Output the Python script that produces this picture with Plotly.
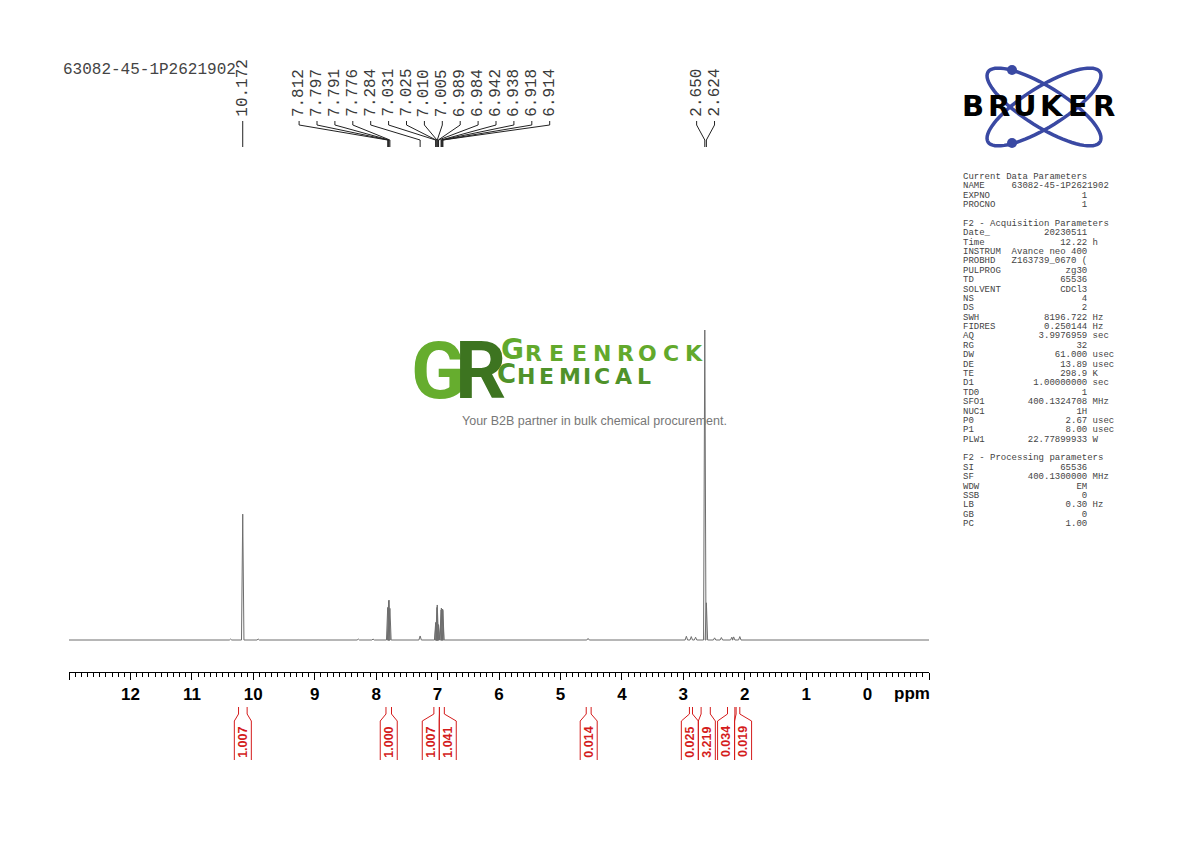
import math
import plotly.graph_objects as go

W, H = 1190, 842

# peak picking labels along the top (ppm)
PEAK_LABELS = [10.172, 7.812, 7.797, 7.791, 7.776, 7.284, 7.031, 7.025, 7.010,
               7.005, 6.989, 6.984, 6.942, 6.938, 6.918, 6.914, 2.650, 2.624]

# spectrum lines: position (ppm) and height (% of the tallest line)
LINE_PPM = [10.37, 10.172, 9.92, 8.29, 8.05, 7.812, 7.797, 7.791, 7.776, 7.284,
            7.031, 7.025, 7.010, 7.005, 6.989, 6.984, 6.942, 6.938, 6.918, 6.914,
            4.55, 2.95, 2.87, 2.80, 2.650, 2.624, 2.49, 2.38, 2.21, 2.18, 2.08]
LINE_HEIGHT = [0.3, 40.6, 0.3, 0.3, 0.3, 10.5, 12.6, 12.9, 10.2, 1.3,
               5.5, 5.8, 10.5, 11.3, 5.0, 4.8, 9.7, 10.3, 10.0, 9.6,
               0.5, 1.2, 1.1, 0.9, 100.0, 12.0, 0.7, 0.8, 0.9, 1.0, 1.1]

# integral regions (ppm) and their values
INT_FROM = [10.24, 7.84, 7.06, 6.97, 4.58, 2.90, 2.71, 2.28, 2.14]
INT_TO = [10.10, 7.75, 6.97, 6.89, 4.50, 2.85, 2.56, 2.16, 2.08]
INT_VALUE = ["1.007", "1.000", "1.007", "1.041", "0.014", "0.025", "3.219", "0.034", "0.019"]

X_TICKS = list(range(13, -2, -1))
X_LABELS = ["" if t in (13, -1) else str(t) for t in X_TICKS]

SAMPLE = "63082-45-1P2621902"

PARAMS = [
    ("Current Data Parameters", None, ""),
    ("NAME", SAMPLE, ""),
    ("EXPNO", "1", ""),
    ("PROCNO", "1", ""),
    ("", None, ""),
    ("F2 - Acquisition Parameters", None, ""),
    ("Date_", "20230511", ""),
    ("Time", "12.22", "h"),
    ("INSTRUM", "Avance neo 400", ""),
    ("PROBHD", "Z163739_0670 (", ""),
    ("PULPROG", "zg30", ""),
    ("TD", "65536", ""),
    ("SOLVENT", "CDCl3", ""),
    ("NS", "4", ""),
    ("DS", "2", ""),
    ("SWH", "8196.722", "Hz"),
    ("FIDRES", "0.250144", "Hz"),
    ("AQ", "3.9976959", "sec"),
    ("RG", "32", ""),
    ("DW", "61.000", "usec"),
    ("DE", "13.89", "usec"),
    ("TE", "298.9", "K"),
    ("D1", "1.00000000", "sec"),
    ("TD0", "1", ""),
    ("SFO1", "400.1324708", "MHz"),
    ("NUC1", "1H", ""),
    ("P0", "2.67", "usec"),
    ("P1", "8.00", "usec"),
    ("PLW1", "22.77899933", "W"),
    ("", None, ""),
    ("F2 - Processing parameters", None, ""),
    ("SI", "65536", ""),
    ("SF", "400.1300000", "MHz"),
    ("WDW", "EM", ""),
    ("SSB", "0", ""),
    ("LB", "0.30", "Hz"),
    ("GB", "0", ""),
    ("PC", "1.00", ""),
]

# the page body adds a small margin, so positions are measured from it
OFF = 8


def px(x):
    return (x - OFF) / W


def py(y):
    return 1 - (y - OFF) / H


X_LEFT, X_RIGHT = 69, 929
PPM_PER_PX = (X_TICKS[0] - X_TICKS[-1]) / (X_RIGHT - X_LEFT)


def spread(pos, gap):
    # push labels apart so neighbours are at least `gap` ppm from each other
    groups = [[p] for p in pos]
    changed = True
    while changed:
        changed = False
        out = []
        for g in groups:
            if out:
                prev = out[-1]
                c0 = sum(prev) / len(prev) - (len(prev) - 1) * gap / 2
                c1 = sum(g) / len(g) + (len(g) - 1) * gap / 2
                if c0 - c1 < gap - 1e-9:
                    out[-1] = prev + g
                    changed = True
                    continue
            out.append(g)
        groups = out
    res = []
    for g in groups:
        c = sum(g) / len(g)
        res += [c + ((len(g) - 1) / 2 - i) * gap for i in range(len(g))]
    return res


fig = go.Figure()

# spectrum as narrow lines on a flat baseline
half = 0.02
order = sorted(range(len(LINE_PPM)), key=lambda i: -LINE_PPM[i])
xs, ys = [X_TICKS[0]], [0]
for i in order:
    p, h = LINE_PPM[i], LINE_HEIGHT[i]
    xs += [p + half, p, p - half]
    ys += [0, h, 0]
xs.append(X_TICKS[-1])
ys.append(0)
fig.add_trace(go.Scatter(x=xs, y=ys, mode="lines",
                         line=dict(color="#6e6e6e", width=1), hoverinfo="skip"))

shapes = []
annotations = []

# peak labels and their connectors
lab_pos = spread(PEAK_LABELS, 17.9 * PPM_PER_PX)
for p, q in zip(PEAK_LABELS, lab_pos):
    annotations.append(dict(x=q, xref="x", y=py(119), yref="paper", text=f"{p:.3f}",
                            textangle=-90, xanchor="center", yanchor="bottom", showarrow=False,
                            font=dict(family="Liberation Mono", size=16, color="#3a3a3a")))
    path = (f"M {q},{py(121)} L {q},{py(125)} L {p},{py(140)} L {p},{py(147)}")
    shapes.append(dict(type="path", path=path, xref="x", yref="paper",
                       line=dict(color="#222222", width=1)))

# integrals under the axis
mids = [(a + b) / 2 for a, b in zip(INT_FROM, INT_TO)]
int_pos = spread(mids, 17 * PPM_PER_PX)
hw = 8.5 * PPM_PER_PX
red = "#d41c1c"
for a, b, c, v in zip(INT_FROM, INT_TO, int_pos, INT_VALUE):
    path = (f"M {a},{py(707)} L {a},{py(714)} L {c + hw},{py(721)} L {c + hw},{py(760)} "
            f"M {b},{py(707)} L {b},{py(714)} L {c - hw},{py(721)} L {c - hw},{py(760)}")
    shapes.append(dict(type="path", path=path, xref="x", yref="paper",
                       line=dict(color=red, width=1)))
    annotations.append(dict(x=c, xref="x", y=py(742), yref="paper", text=v, textangle=-90,
                            xanchor="center", yanchor="middle", showarrow=False,
                            font=dict(family="Liberation Sans", size=12.5, color=red, weight="bold")))

annotations.append(dict(x=px(912), y=py(693), xref="paper", yref="paper", text="ppm",
                        showarrow=False, xanchor="center", yanchor="middle",
                        font=dict(family="Liberation Sans", size=17, color="black", weight="bold")))

annotations.append(dict(x=px(61), y=py(70), xref="paper", yref="paper", text=SAMPLE,
                        showarrow=False, xanchor="left", yanchor="middle",
                        font=dict(family="Liberation Mono", size=16, color="#444444")))

# acquisition / processing parameter panel
NB = "\u00a0"
for k, (name, val, unit) in enumerate(PARAMS):
    if val is None:
        line = name
    else:
        line = name.ljust(9) + val.rjust(14) + (" " + unit if unit else "")
    if not line:
        continue
    annotations.append(dict(x=px(961), y=py(177 + k * 9.38), xref="paper", yref="paper",
                            text=line.replace(" ", NB), showarrow=False,
                            xanchor="left", yanchor="middle",
                            font=dict(family="Liberation Mono", size=9, color="#444444")))

# Bruker logo
blue = "#3a49a3"
cx, cy, ra, rb = 1044, 107, 66, 20
for sgn in (1, -1):
    th = math.radians(32) * sgn
    pts = []
    for j in range(73):
        t = 2 * math.pi * j / 72
        ex = cx + ra * math.cos(t) * math.cos(th) - rb * math.sin(t) * math.sin(th)
        ey = cy + ra * math.cos(t) * math.sin(th) + rb * math.sin(t) * math.cos(th)
        pts.append(f"{px(ex):.5f},{py(ey):.5f}")
    shapes.append(dict(type="path", path="M " + " L ".join(pts) + " Z",
                       xref="paper", yref="paper", line=dict(color=blue, width=3.5)))
for dy in (70, 143):
    shapes.append(dict(type="circle", xref="paper", yref="paper",
                       x0=px(1007), x1=px(1017), y0=py(dy - 5), y1=py(dy + 5),
                       fillcolor=blue, line=dict(width=0)))
for j, ch in enumerate("BRUKER"):
    annotations.append(dict(x=px(973 + j * 26.2), y=py(106), xref="paper", yref="paper",
                            text=ch, showarrow=False, xanchor="center", yanchor="middle",
                            font=dict(family="DejaVu Sans", size=29, color="black", weight="bold")))

# Greenrock watermark
light, dark, mid = "#66ad2e", "#3d7420", "#4f922a"
annotations.append(dict(x=px(438), y=py(371), xref="paper", yref="paper", text="G",
                        showarrow=False, font=dict(family="Roboto", size=80, color=light, weight="bold")))
annotations.append(dict(x=px(480), y=py(371), xref="paper", yref="paper", text="R",
                        showarrow=False, font=dict(family="Roboto", size=80, color=dark, weight="bold")))


def spaced(word, x0, base, pitch, size, color, first_size, first_x):
    annotations.append(dict(x=px(first_x), y=py(base), xref="paper", yref="paper", text=word[0],
                            showarrow=False, xanchor="center", yanchor="bottom",
                            font=dict(family="DejaVu Sans", size=first_size, color=color, weight="bold")))
    x = x0
    for ch in word[1:]:
        w = pitch * (0.45 if ch == "I" else 1.15 if ch == "M" else 1.0)
        annotations.append(dict(x=px(x + w / 2), y=py(base), xref="paper", yref="paper", text=ch,
                                showarrow=False, xanchor="center", yanchor="bottom",
                                font=dict(family="DejaVu Sans", size=size, color=color, weight="bold")))
        x += w


spaced("GREENROCK", 522, 368, 22.9, 22, "#62a92c", 28, 512)
spaced("CHEMICAL", 515, 391, 21.2, 22, mid, 26, 506)
annotations.append(dict(x=px(594), y=py(421), xref="paper", yref="paper",
                        text="Your B2B partner in bulk chemical procurement.", showarrow=False,
                        font=dict(family="Liberation Sans", size=12.5, color="#777777")))

units_per_px = 100 / 310
fig.update_layout(
    width=W, height=H, margin=dict(l=0, r=0, t=0, b=0),
    paper_bgcolor="white", plot_bgcolor="white", showlegend=False,
    shapes=shapes, annotations=annotations,
    xaxis=dict(domain=[px(X_LEFT), px(X_RIGHT)], range=[X_TICKS[0], X_TICKS[-1]],
               showgrid=False, zeroline=False, showline=True, linecolor="black", linewidth=1,
               ticks="outside", ticklen=7, tickcolor="black", tickmode="array",
               tickvals=X_TICKS, ticktext=X_LABELS,
               tickfont=dict(family="Liberation Sans", size=17, color="black", weight="bold"),
               minor=dict(tickmode="linear", tick0=0, dtick=0.1, ticks="outside",
                          ticklen=3.5, tickcolor="black")),
    yaxis=dict(domain=[py(672), py(300)], visible=False,
               range=[-32 * units_per_px, 340 * units_per_px]),
)

fig.write_html("out.html")
